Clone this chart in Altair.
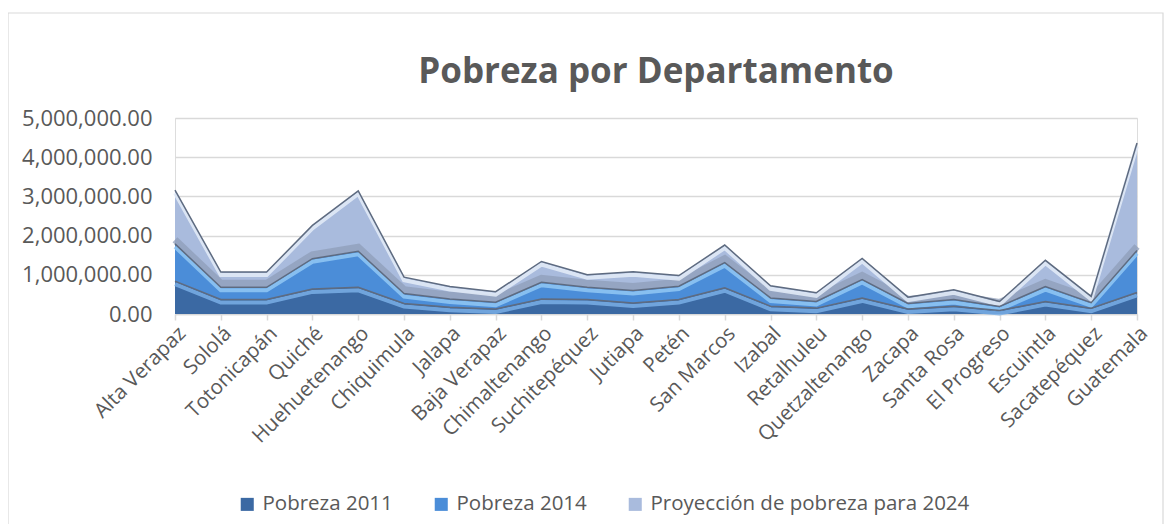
import altair as alt
import pandas as pd

departamentos = [
    "Alta Verapaz", "Sololá", "Totonicapán", "Quiché", "Huehuetenango",
    "Chiquimula", "Jalapa", "Baja Verapaz", "Chimaltenango", "Suchitepéquez",
    "Jutiapa", "Petén", "San Marcos", "Izabal", "Retalhuleu", "Quetzaltenango",
    "Zacapa", "Santa Rosa", "El Progreso", "Escuintla", "Sacatepéquez", "Guatemala",
]
pobreza_2011 = [840000, 370000, 370000, 640000, 680000, 270000, 170000, 130000,
                380000, 370000, 280000, 370000, 670000, 200000, 150000, 410000,
                130000, 200000, 90000, 320000, 150000, 550000]
pobreza_2014 = [950000, 310000, 310000, 770000, 920000, 250000, 210000, 170000,
                430000, 310000, 320000, 340000, 640000, 210000, 170000, 470000,
                140000, 170000, 100000, 380000, 140000, 1070000]
proyeccion_2024 = [1370000, 390000, 390000, 850000, 1540000, 420000, 320000, 270000,
                   530000, 320000, 480000, 270000, 450000, 310000, 220000, 540000,
                   160000, 250000, 130000, 670000, 160000, 2740000]
y_ticks = [0, 1000000, 2000000, 3000000, 4000000, 5000000]

series = ["Pobreza 2011", "Pobreza 2014", "Proyección de pobreza para 2024"]
fills = ["#3b69a3", "#4b8dd8", "#a9bbdd"]
highlights = ["#7aafe6", "#92c8f5", "#e4ecf8"]
titulo = "Pobreza por Departamento"

rows = []
for i, d in enumerate(departamentos):
    for k, vals in enumerate([pobreza_2011, pobreza_2014, proyeccion_2024]):
        rows.append({"departamento": d, "serie": series[k], "orden": k, "valor": vals[i]})
df = pd.DataFrame(rows)

FONT = "Open Sans"
TXT = "#595959"

base = alt.Chart(df).transform_stack(
    stack="valor", groupby=["departamento"], as_=["y0", "y1"],
    sort=[alt.SortField("orden", order="ascending")],
)

xscale = alt.Scale(type="point", padding=0)
yscale = alt.Scale(domain=[0, 5000000], nice=False)

xaxis = alt.Axis(labelAngle=-45, labelAlign="right", labelBaseline="middle",
                 labelFont=FONT, labelFontSize=20.5, labelColor=TXT,
                 labelPadding=10, labelOffset=7, tickSize=6, tickColor="#d9d9d9",
                 tickWidth=1.5, domainColor="#d9d9d9", domainWidth=1.5, grid=False,
                 labelOverlap=False, labelLimit=400)
yaxis = alt.Axis(values=y_ticks, format=",.2f", labelFont=FONT, labelFontSize=22,
                 labelColor=TXT, labelPadding=23, ticks=False, domain=False,
                 labelOverlap=False, grid=True, gridColor="#d9d9d9", gridWidth=1.5)


def X():
    return alt.X("departamento:N", sort=departamentos, title=None, scale=xscale, axis=xaxis)


def Y(field):
    return alt.Y(field, title=None, scale=yscale, axis=yaxis)


areas = base.mark_area(opacity=1).encode(
    x=X(),
    y=Y("y1:Q"),
    y2="y0:Q",
    color=alt.Color(
        "serie:N",
        scale=alt.Scale(domain=series, range=fills),
        legend=alt.Legend(orient="none", legendX=62, legendY=376, direction="horizontal",
                          title=None, symbolType="square", symbolSize=170,
                          symbolStrokeWidth=0, labelFont=FONT, labelFontSize=20.5,
                          labelColor=TXT, columnPadding=38, labelOffset=5,
                          labelLimit=600),
    ),
)

layers = [areas]

# shadow at the bottom of the projection band
layers.append(
    base.transform_filter(alt.datum.serie == series[2])
    .mark_line(color="#8f9db8", strokeWidth=7, yOffset=-4, opacity=0.75)
    .encode(x=X(), y=Y("y0:Q"))
)

for s, h in zip(series, highlights):
    layers.append(
        base.transform_filter(alt.datum.serie == s)
        .mark_line(color=h, strokeWidth=4, yOffset=3, opacity=0.85)
        .encode(x=X(), y=Y("y1:Q"))
    )

edges = base.mark_line(color="#5e6b80", strokeWidth=1.5).encode(
    x=X(), y=Y("y1:Q"), detail="serie:N"
)
layers.append(edges)

frame = alt.Chart(pd.DataFrame({"a": [0]})).mark_rect(
    fillOpacity=0, stroke="#d9d9d9", strokeWidth=1.2
).encode(x=alt.value(-167), x2=alt.value(988), y=alt.value(-105), y2=alt.value(440))
layers.append(frame)

title_mark = alt.Chart(pd.DataFrame({"t": [titulo]})).mark_text(
    font=FONT, fontSize=35, fontWeight="bold", color=TXT, align="center",
    baseline="alphabetic"
).encode(text="t:N", x=alt.value(481), y=alt.value(-35))
layers.append(title_mark)

chart = alt.layer(*layers).properties(
    width=962, height=196,
    padding={"left": 167, "top": 110, "right": 27, "bottom": 210},
    autosize=alt.AutoSizeParams(type="none"),
).configure_view(strokeWidth=0, stroke="transparent").configure(background="white")

chart.save("out.html", embed_options={"renderer": "svg", "actions": False})
